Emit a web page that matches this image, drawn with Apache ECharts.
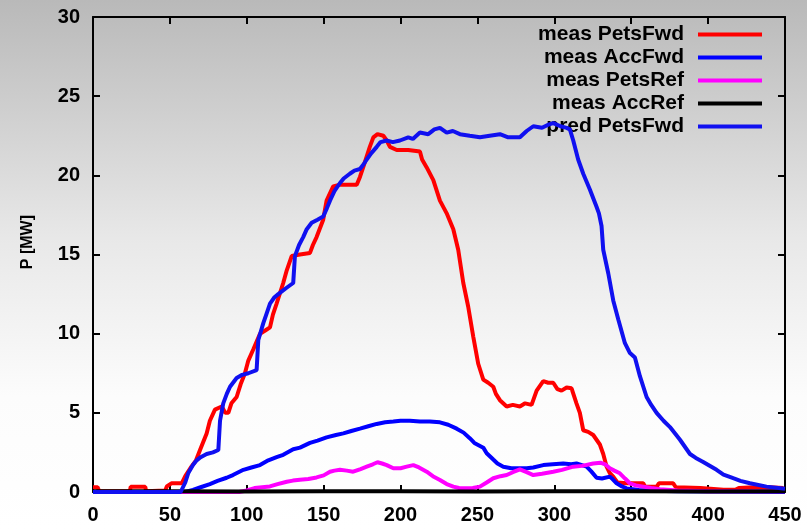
<!DOCTYPE html>
<html>
<head>
<meta charset="utf-8">
<script src="https://cdn.jsdelivr.net/npm/echarts@6/dist/echarts.min.js"></script>
<style>
html,body{margin:0;padding:0;width:807px;height:529px;overflow:hidden;}
#chart{width:807px;height:529px;}
</style>
</head>
<body>
<div id="chart"></div>
<script>
// ---- data (x = time, y = P [MW]) ----
const seriesNames = ['meas PetsFwd', 'meas AccFwd', 'meas PetsRef', 'meas AccRef', 'pred PetsFwd'];
const xTicks = [0, 50, 100, 150, 200, 250, 300, 350, 400, 450];
const yTicks = [0, 5, 10, 15, 20, 25, 30];

const measPetsFwd = [[0,0.3],[3,0.3],[4,0.05],[24,0.05],[24.5,0.33],[34,0.33],[34.5,0.05],[47,0.1],[48,0.35],[51,0.55],[57.7,0.55],[60,1.0],[64,1.6],[67,2.0],[69.6,2.65],[73.9,3.7],[76,4.5],[79.3,5.2],[83.7,5.4],[86,5.0],[88,5.0],[90,5.6],[93.4,6.0],[96,6.8],[98.8,7.5],[101,8.3],[104.2,9.0],[108.6,10.0],[112,10.2],[115.1,10.4],[117,11.2],[119.4,11.9],[123.7,13.2],[126,14.0],[129.2,14.9],[134.6,15.0],[141.1,15.1],[143,15.6],[145.4,16.1],[149.7,17.2],[151.9,18.4],[156.2,19.3],[160,19.4],[165,19.4],[171.5,19.4],[173.6,19.9],[176,20.6],[178,21.2],[180,21.8],[182.3,22.4],[185,22.6],[188.8,22.5],[191,22.2],[193.1,21.8],[197.5,21.6],[205,21.6],[212.6,21.5],[214,21.0],[217,20.5],[221.3,19.7],[225.6,18.4],[230,17.6],[234.3,16.6],[237.5,15.3],[240.8,13.2],[244,11.7],[247.3,9.8],[250.5,8.1],[253.8,7.1],[257,6.9],[260.3,6.65],[262,6.2],[264.6,5.8],[269,5.4],[273,5.5],[277.6,5.4],[281,5.6],[285.2,5.5],[288.5,6.4],[292.8,7.0],[296,6.9],[299.3,6.9],[302,6.5],[304.7,6.4],[308,6.6],[311.2,6.55],[314.4,5.6],[316.6,5.0],[318.8,3.9],[322,3.8],[325.3,3.6],[329.6,3.0],[331.8,2.4],[334,1.6],[336,1.2],[338.3,0.97],[341,0.6],[347,0.55],[357.8,0.55],[359,0.35],[366.5,0.33],[368,0.55],[377.3,0.55],[379,0.3],[395,0.25],[410,0.15],[418,0.15],[420,0.25],[430,0.3],[440,0.3],[449,0.25]];

const measAccFwd = [[0,0],[60,0],[65,0.13],[70,0.3],[76,0.5],[81,0.7],[86.9,0.9],[91,1.07],[97.8,1.4],[103,1.55],[108.6,1.7],[114,2.0],[119.4,2.2],[123.7,2.35],[130.2,2.7],[134.6,2.8],[141.1,3.1],[146,3.25],[151.9,3.45],[158,3.6],[162.8,3.7],[168,3.85],[173.6,4.0],[179,4.15],[184.5,4.3],[190,4.4],[195.3,4.45],[200,4.5],[206,4.5],[212.6,4.45],[219,4.45],[225.6,4.4],[231,4.25],[236.5,4.0],[241,3.75],[245,3.4],[248,3.1],[253.8,2.8],[256,2.45],[260.3,2.05],[263,1.8],[266.8,1.6],[272,1.5],[277.6,1.5],[282,1.5],[286.3,1.55],[292.8,1.7],[299,1.75],[305.8,1.8],[311,1.75],[314.4,1.8],[318,1.7],[321,1.6],[324,1.3],[327.5,0.9],[331,0.85],[336.1,0.97],[338,0.8],[340.5,0.55],[344,0.35],[347,0.23],[355,0.12],[365,0.08],[380,0.05],[400,0.03],[450,0.0]];

const measPetsRef = [[0,0],[95,0],[100,0.1],[105,0.25],[110,0.3],[115,0.35],[120,0.5],[126,0.65],[130,0.72],[134.6,0.78],[140,0.82],[145.4,0.92],[150,1.05],[154.1,1.28],[157,1.35],[160.6,1.4],[165,1.35],[169.2,1.28],[174,1.45],[178,1.6],[182,1.75],[185,1.88],[188,1.8],[191,1.7],[195.3,1.5],[200,1.5],[204,1.6],[208.3,1.7],[212,1.55],[217,1.28],[221,1.0],[225.6,0.76],[230,0.5],[234.3,0.34],[238,0.25],[243,0.23],[247,0.25],[251.6,0.34],[256,0.6],[260.3,0.87],[265,1.0],[269,1.07],[273,1.25],[277.6,1.43],[282,1.25],[286.3,1.07],[292,1.15],[299.3,1.28],[305,1.4],[312.3,1.6],[318,1.65],[325.3,1.8],[330,1.85],[333,1.75],[336.1,1.5],[339,1.35],[342.6,1.18],[346,0.85],[349.1,0.55],[353,0.42],[357.8,0.34],[363,0.25],[368.7,0.17],[380,0.1],[400,0.05],[450,0.05]];

const measAccRef = [[0,0.05],[50,0.05],[100,0.03],[150,0.05],[200,0.05],[250,0.03],[300,0.05],[350,0.05],[400,0.03],[450,0.05]];

const predPetsFwd = [[0,0],[57,0],[58,0.1],[60,0.6],[62,1.2],[65,1.7],[67.4,2.0],[70,2.2],[73.9,2.4],[78,2.5],[81.5,2.65],[82.6,4.5],[84.7,5.6],[87,6.2],[89.1,6.65],[93.4,7.2],[97,7.4],[101,7.5],[106.4,7.7],[107.5,9.6],[110.7,10.65],[113,11.3],[115.1,11.9],[118,12.3],[120.5,12.5],[125.9,12.9],[130.2,13.2],[131.3,14.9],[134,15.6],[136.7,16.1],[139,16.6],[142.2,17.0],[146,17.2],[149.7,17.4],[152,17.9],[154.1,18.4],[157,19.0],[160.5,19.5],[163,19.8],[167,20.1],[170,20.3],[173.6,20.4],[176,20.7],[178,21.0],[181,21.4],[184.5,21.8],[187,22.1],[190.9,22.2],[195,22.1],[199.6,22.2],[205,22.4],[208,22.3],[212.6,22.7],[218,22.6],[222,22.9],[225.6,23.0],[230,22.7],[234,22.8],[238.6,22.6],[245,22.5],[251.6,22.4],[258,22.5],[264.6,22.6],[270,22.4],[277.6,22.4],[282,22.8],[286.3,23.1],[292,23.0],[296,23.2],[299.3,23.3],[304,23.1],[308,23.0],[310.1,22.9],[312.3,22.2],[315.5,21.0],[318.8,20.1],[323.1,19.1],[327.5,18.0],[329,17.6],[330.7,16.8],[331.8,15.3],[335.1,13.8],[338.3,12.1],[341.6,10.9],[345.9,9.4],[349,8.8],[352.4,8.5],[355.7,7.3],[360,6.0],[363,5.5],[366.5,5.0],[371,4.5],[375.2,4.1],[381.7,3.3],[388.2,2.4],[392,2.15],[396.8,1.9],[405.5,1.4],[410,1.1],[416.3,0.87],[421,0.7],[427.2,0.55],[438,0.34],[450,0.2]];

const seriesData = [measPetsFwd, measAccFwd, measPetsRef, measAccRef, predPetsFwd];
const seriesColors = ['#ff0000', '#0000ff', '#ff00ff', '#000000', '#1010f0'];

// ---- chart ----
const FONT = '"Liberation Sans", Arial, sans-serif';
const chart = echarts.init(document.getElementById('chart'), null, {renderer: 'canvas'});

const tickLabel = {show: true, color: '#000', fontFamily: FONT, fontWeight: 'bold', fontSize: 20};

function valueAxis(pos, min, max, interval, showLabel, margin) {
  return {
    type: 'value', position: pos, min: min, max: max, interval: interval,
    axisLine: {show: true, onZero: false, lineStyle: {color: '#000', width: 2}},
    axisTick: {show: true, inside: true, length: 7, lineStyle: {color: '#000', width: 2}},
    axisLabel: Object.assign({}, tickLabel, {show: showLabel, margin: margin}),
    splitLine: {show: false}
  };
}

chart.setOption({
  animation: false,
  backgroundColor: {
    type: 'linear', x: 0, y: 0, x2: 0, y2: 1,
    colorStops: [
      {offset: 0, color: '#b9b9b9'},
      {offset: 0.45, color: '#e8e8e8'},
      {offset: 0.75, color: '#fcfcfc'},
      {offset: 1, color: '#ffffff'}
    ]
  },
  grid: {left: 93, right: 22, top: 17, bottom: 37, containLabel: false},
  xAxis: [
    valueAxis('bottom', xTicks[0], xTicks[xTicks.length - 1], 50, true, 13),
    valueAxis('top', xTicks[0], xTicks[xTicks.length - 1], 50, false, 8)
  ],
  yAxis: [
    valueAxis('left', yTicks[0], yTicks[yTicks.length - 1], 5, true, 13),
    valueAxis('right', yTicks[0], yTicks[yTicks.length - 1], 5, false, 8)
  ],
  legend: {
    data: seriesNames.map((n, i) => ({name: n, icon: 'rect', itemStyle: {color: seriesColors[i]}})),
    orient: 'vertical',
    right: 40,
    top: 18,
    align: 'right',
    itemWidth: 64,
    itemHeight: 4,
    itemGap: 0,
    z: 1,
    textStyle: {color: '#000', fontFamily: FONT, fontWeight: 'bold', fontSize: 21, lineHeight: 23, padding: [0, 9, 0, 0]}
  },
  graphic: [{
    type: 'text', left: 20, top: 215, rotation: Math.PI / 2,
    style: {text: 'P [MW]', fill: '#000', font: 'bold 16px ' + FONT}
  }],
  series: seriesNames.map((name, i) => ({
    name: name,
    type: 'line',
    data: seriesData[i],
    symbol: 'none',
    z: 3 + i,
    lineStyle: {color: seriesColors[i], width: 4},
    itemStyle: {color: seriesColors[i]}
  }))
});
</script>
</body>
</html>
